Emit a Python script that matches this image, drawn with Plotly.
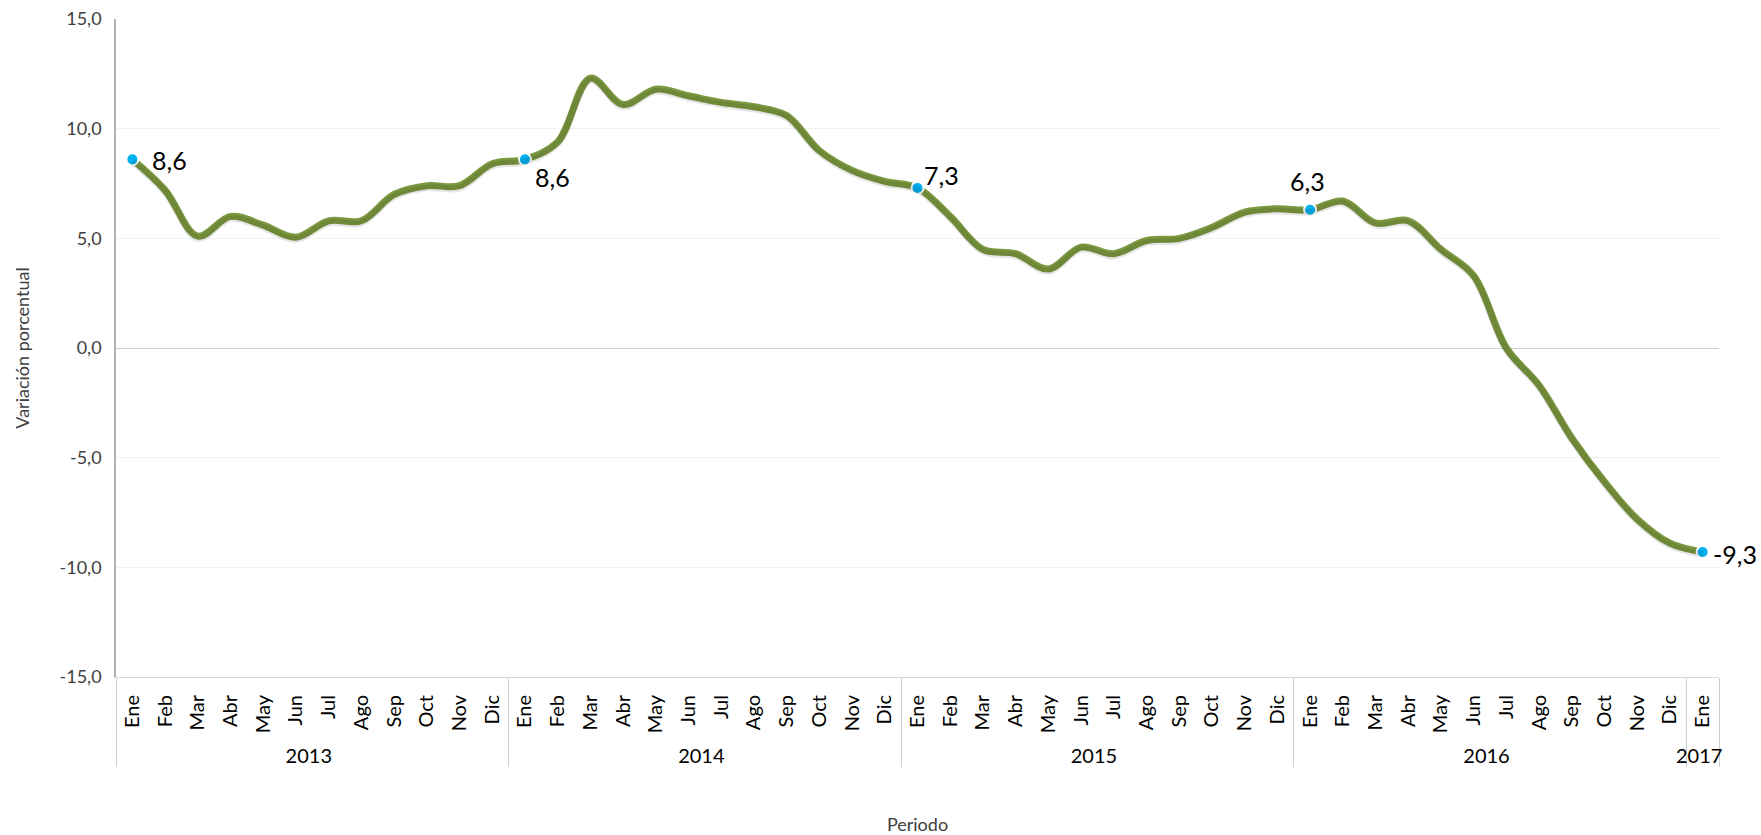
import plotly.graph_objects as go

months = ["Ene", "Feb", "Mar", "Abr", "May", "Jun", "Jul", "Ago", "Sep", "Oct", "Nov", "Dic"]
years = ["2013", "2014", "2015", "2016", "2017"]

values_2013 = [8.6, 7.2, 5.1, 6.0, 5.6, 5.05, 5.8, 5.8, 7.0, 7.4, 7.4, 8.4]
values_2014 = [8.6, 9.4, 12.3, 11.1, 11.8, 11.5, 11.2, 11.0, 10.6, 9.0, 8.1, 7.6]
values_2015 = [7.3, 6.0, 4.5, 4.3, 3.6, 4.6, 4.3, 4.9, 5.0, 5.5, 6.2, 6.35]
values_2016 = [6.3, 6.7, 5.7, 5.8, 4.5, 3.3, 0.0, -1.7, -4.1, -6.1, -7.8, -8.9]
values_2017 = [-9.3]

y_ticks = [-15, -10, -5, 0, 5, 10, 15]
y_ticktext = [f"{v:.1f}".replace(".", ",") for v in y_ticks]

series = [values_2013, values_2014, values_2015, values_2016, values_2017]
x_year, x_month, y_vals = [], [], []
for yr, vals in zip(years, series):
    for m, v in zip(months, vals):
        x_year.append(yr)
        x_month.append(m)
        y_vals.append(v)

# highlighted points: every January
hl_idx = [i for i, m in enumerate(x_month) if m == "Ene"]
hl_year = [x_year[i] for i in hl_idx]
hl_month = [x_month[i] for i in hl_idx]
hl_vals = [y_vals[i] for i in hl_idx]
hl_text = [f"{v:.1f}".replace(".", ",") for v in hl_vals]

FONT = "Lato"
GREEN = "#7B983F"
BLUE = "#00B0F0"

fig = go.Figure()

# soft shadow under the line
fig.add_trace(go.Scatter(
    x=[x_year, x_month], y=y_vals, mode="lines",
    line=dict(color="rgba(0,0,0,0.10)", width=7, shape="spline", smoothing=1.0),
    yaxis="y2", hoverinfo="skip", showlegend=False))

fig.add_trace(go.Scatter(
    x=[x_year, x_month], y=y_vals, mode="lines",
    line=dict(color=GREEN, width=7, shape="spline", smoothing=1.0),
    showlegend=False))

fig.add_trace(go.Scatter(
    x=[hl_year, hl_month], y=hl_vals, mode="markers",
    marker=dict(color=BLUE, size=12, line=dict(color="white", width=2)),
    showlegend=False))

# label placements (style only)
placements = [
    dict(xanchor="left", yanchor="middle", xshift=18, yshift=-1),
    dict(xanchor="left", yanchor="middle", xshift=8, yshift=-18),
    dict(xanchor="left", yanchor="middle", xshift=4, yshift=13),
    dict(xanchor="center", yanchor="middle", xshift=-3, yshift=29),
    dict(xanchor="left", yanchor="middle", xshift=8, yshift=-2),
]
for i, v, t, p in zip(hl_idx, hl_vals, hl_text, placements):
    fig.add_annotation(x=i, xref="x", y=v, yref="y", text=t, showarrow=False,
                       font=dict(family=FONT, size=25, color="#000000"),
                       **p)

n = len(y_vals)
fig.update_layout(
    width=1761, height=835,
    margin=dict(l=116, r=42, t=19, b=158),
    paper_bgcolor="white", plot_bgcolor="white",
    font=dict(family=FONT, color="#595959"),
    xaxis=dict(
        type="multicategory",
        range=[-0.5, n - 0.5], autorange=False,
        tickangle=-90,
        tickfont=dict(family=FONT, size=20, color="#000000"),
        ticklabelstandoff=9,
        showgrid=False,
        showline=True, linecolor="#D9D9D9", linewidth=1,
        showdividers=True, dividercolor="#D0D0D0", dividerwidth=1,
        ticks="",
        automargin=False,
        title=dict(text="Periodo", font=dict(family=FONT, size=18, color="#404040"), standoff=52),
    ),
    yaxis=dict(
        range=[-15, 15],
        tickvals=y_ticks,
        ticktext=y_ticktext,
        tickfont=dict(family=FONT, size=18, color="#404040"),
        ticklabelstandoff=9,
        showgrid=True, gridcolor="#F0F0F0", gridwidth=1,
        zeroline=True, zerolinecolor="#D0D0D0", zerolinewidth=1,
        showline=True, linecolor="#B0B0B0", linewidth=1.5,
        ticks="", ticklen=0,
        automargin=False,
        title=dict(text="Variación porcentual", font=dict(family=FONT, size=18, color="#404040"), standoff=25),
    ),
    yaxis2=dict(
        range=[-15 + 0.1, 15 + 0.1], overlaying="y", visible=False,
    ),
)

fig.write_html("out.html",
               config={"displayModeBar": False},
               post_script="document.body.style.margin='0';document.body.style.overflow='hidden';")
